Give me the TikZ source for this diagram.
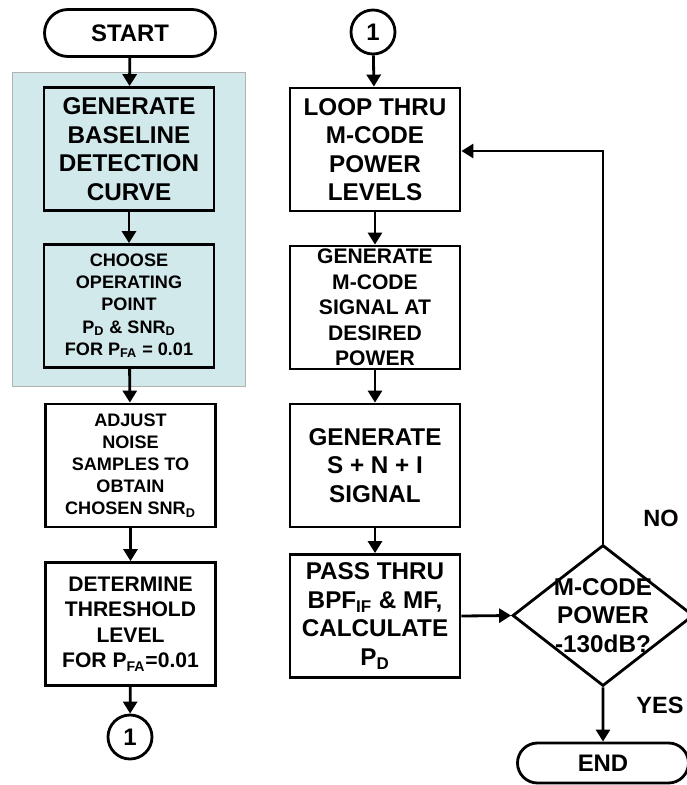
\documentclass[tikz,border=0pt]{standalone}
\usepackage{fontspec}
\setmainfont{Liberation Sans}
\usepackage{xcolor}
\usepackage{tikz}
\usetikzlibrary{arrows.meta}
\usetikzlibrary{shapes}
\usetikzlibrary{patterns}
\definecolor{areablue}{RGB}{210,233,236}
\tikzset{%
  stepbox/.style={
    draw,
    rectangle,
    line width=1.6pt,
    minimum width=3.4cm,
    minimum height=2.46cm,
    inner sep=0pt,
    align=center
  },
  bigtext/.style={font=\fontsize{13.8}{16.2}\selectfont\bfseries},
  midtext/.style={font=\fontsize{12}{14.5}\selectfont\bfseries},
  smalltext/.style={font=\fontsize{10.3}{12.6}\selectfont\bfseries},
  term/.style={
    draw,
    rounded rectangle,
    line width=1.6pt,
    minimum width=3.42cm,
    inner sep=0pt,
    font=\fontsize{13.6}{16}\selectfont\bfseries
  },
  conn/.style={
    draw,
    circle,
    line width=1.6pt,
    minimum size=0.88cm,
    inner sep=0pt,
    font=\fontsize{13.6}{16}\selectfont\bfseries
  },
  answer/.style={font=\fontsize{13.4}{16}\selectfont\bfseries},
  flow/.style={line width=1.6pt, -{Triangle[length=2.4mm,width=2.8mm]}},
}

\begin{document}
\begin{tikzpicture}
  \useasboundingbox (0,0) rectangle (13.74,-15.7);
  % shaded block round the first two steps
  \fill [areablue] (0.24,-1.44) rectangle (4.9,-7.72);
  \draw [gray!60, line width=0.4pt] (0.24,-1.44) rectangle (4.9,-7.72);

  % left column
  \node (start) [xshift=2.6cm,yshift=-0.66cm,term,minimum height=0.94cm] 
  {START};
  \node (base) [xshift=2.58cm,yshift=-2.98cm,stepbox,bigtext] 
  {GENERATE\\BASELINE\\DETECTION\\CURVE};
  \node (choose) [xshift=2.58cm,yshift=-6.12cm,stepbox,smalltext] 
  {CHOOSE\\OPERATING\\POINT\\P\textsubscript{D} \& SNR\textsubscript{D}\\FOR P\textsubscript{FA} = 0.01};
  \node (adjust) [xshift=2.61cm,yshift=-9.31cm,stepbox,smalltext] 
  {ADJUST\\NOISE\\SAMPLES TO\\OBTAIN\\CHOSEN SNR\textsubscript{D}};
  \node (thresh) [xshift=2.61cm,yshift=-12.48cm,stepbox,midtext] 
  {DETERMINE\\THRESHOLD\\LEVEL\\FOR P\textsubscript{FA}=0.01};
  \node (cb) [xshift=2.6cm,yshift=-14.74cm,conn] {1};

  % right column
  \node (ct) [xshift=7.46cm,yshift=-0.64cm,conn] {1};
  \node (loop) [xshift=7.5cm,yshift=-2.99cm,stepbox,bigtext] 
  {LOOP THRU\\M-CODE\\POWER\\LEVELS};
  \node (mcode) [xshift=7.5cm,yshift=-6.15cm,stepbox,midtext] 
  {GENERATE\\M-CODE\\SIGNAL AT\\DESIRED\\POWER};
  \node (sni) [xshift=7.5cm,yshift=-9.31cm,stepbox,bigtext] 
  {GENERATE\\S + N + I\\SIGNAL};
  \node (pass) [xshift=7.5cm,yshift=-12.32cm,stepbox,bigtext] 
  {PASS THRU\\BPF\textsubscript{IF} \& MF,\\CALCULATE\\P\textsubscript{D}};
  \node (dec) [xshift=12.06cm,yshift=-12.31cm,draw,diamond,line width=1.6pt,
    minimum width=3.62cm,minimum height=2.82cm,inner sep=0pt,
    label={[bigtext,align=center]center:M-CODE\\POWER\\-130dB?}] {};
  \node (fin) [xshift=12.06cm,yshift=-15.26cm,term,minimum height=0.8cm] 
  {END};
  \node (no) [xshift=13.22cm,yshift=-10.36cm,answer] {NO};
  \node (yes) [xshift=13.2cm,yshift=-14.1cm,answer] {YES};

  \draw [flow] (start)--(base);
  \draw [flow] (base)--(choose);
  \draw [flow] (choose)--(adjust);
  \draw [flow] (adjust)--(thresh);
  \draw [flow] (thresh)--(cb);
  \draw [flow] (ct)--(loop);
  \draw [flow] (loop)--(mcode);
  \draw [flow] (mcode)--(sni);
  \draw [flow] (sni)--(pass);
  \draw [flow] (pass.east)--(dec.west);
  \draw [flow] (dec.north) |- ([yshift=-0.03cm]loop.east);
  \draw [flow] (dec)--(fin);
\end{tikzpicture}
\end{document}
